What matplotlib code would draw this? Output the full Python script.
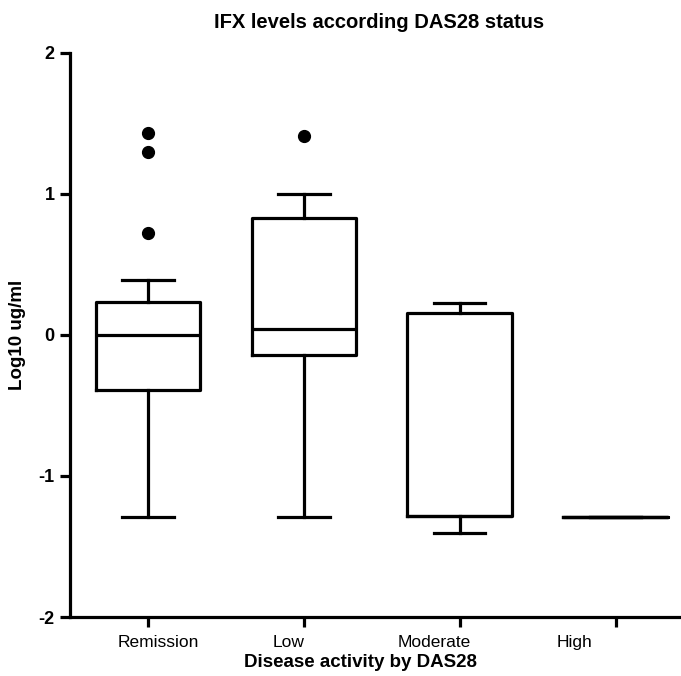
import matplotlib
matplotlib.use("Agg")
import matplotlib.pyplot as plt
import matplotlib.transforms as mtransforms

# ---- data (log10 ug/ml) ----
categories = ["Remission", "Low", "Moderate", "High"]
medians = [0.00, 0.043, -1.284, -1.289]
q1 = [-0.39, -0.142, -1.284, -1.289]
q3 = [0.236, 0.828, 0.154, -1.289]
whisker_low = [-1.289, -1.289, -1.406, -1.289]
whisker_high = [0.386, 0.998, 0.225, -1.289]
outliers = [[1.43, 1.293, 0.721], [1.413], [], []]

title = "IFX levels according DAS28 status"
xlabel = "Disease activity by DAS28"
ylabel = "Log10 ug/ml"
yticks = [-2, -1, 0, 1, 2]

plt.rcParams['font.family'] = ['Liberation Sans', 'DejaVu Sans']

fig = plt.figure(figsize=(6.81, 6.76), dpi=100)
ax = fig.add_axes([70 / 681, 1 - 617 / 676, 1 - 70 / 681, (617 - 52.7) / 676])

stats = []
for i, c in enumerate(categories):
    stats.append(dict(label=c, med=medians[i], q1=q1[i], q3=q3[i],
                      whislo=whisker_low[i], whishi=whisker_high[i],
                      fliers=outliers[i]))

lw = 2.3
positions = list(range(len(categories)))
ax.bxp(stats, positions=positions, widths=0.67, capwidths=0.33,
       showfliers=True, patch_artist=False,
       boxprops=dict(color='black', linewidth=lw),
       medianprops=dict(color='black', linewidth=lw),
       whiskerprops=dict(color='black', linewidth=lw),
       capprops=dict(color='black', linewidth=lw),
       flierprops=dict(marker='o', markerfacecolor='black',
                       markeredgecolor='black', markersize=8.5))

ax.set_xlim(-0.5, 3.42)
ax.set_ylim(-2, 2)
ax.set_yticks(yticks)
ax.set_yticklabels([str(t) for t in yticks], fontweight='bold', fontsize=13)
ax.set_xticks(positions)
ax.set_xticklabels(categories, fontsize=12.5)

for s in ['top', 'right']:
    ax.spines[s].set_visible(False)
for s in ['left', 'bottom']:
    ax.spines[s].set_linewidth(2.3)
ax.tick_params(axis='both', width=2.3, length=7, color='black')
ax.tick_params(axis='x', pad=6)
ax.tick_params(axis='y', pad=4)

# shift x tick labels as in reference
offsets_px = [10, -15, -25, -41]
for lab, dx in zip(ax.get_xticklabels(), offsets_px):
    lab.set_transform(lab.get_transform() + mtransforms.ScaledTranslation(dx / 100, 0, fig.dpi_scale_trans))

ax.set_title(title, fontweight='bold', fontsize=14.5, pad=18, x=(379 - 70) / 611)
ax.set_xlabel(xlabel, fontweight='bold', fontsize=13.5, labelpad=3, x=(361 - 70) / 611)
ax.set_ylabel(ylabel, fontweight='bold', fontsize=13.5, labelpad=9)

fig.savefig("out.png", dpi=100, facecolor='white')
